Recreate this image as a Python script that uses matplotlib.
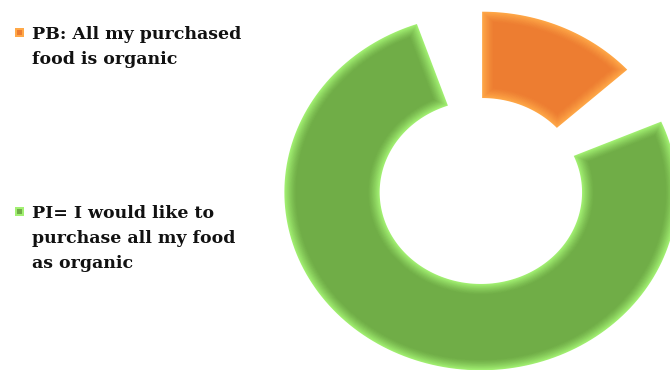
import numpy as np
import matplotlib
matplotlib.use("Agg")
import matplotlib.pyplot as plt
from matplotlib.patches import Polygon, Rectangle
from matplotlib.colors import to_rgb

# Survey shares (percent)
labels = ["PB: All my purchased\nfood is organic",
          "PI= I would like to\npurchase all my food\nas organic"]
shares = [18.5, 81.5]
colors = ["#ED7D31", "#70AD47"]
rims = ["#FFA848", "#A2F072"]

W, H = 670, 370
gap_deg = 19.0          # blank arc left after each slice
explode = 0.008
r_out, r_in = 1.0, 0.515
bevel = 0.06
cx, cy, Rx, Ry = 481.5, 191, 196.5, 178   # ring centre / radii in pixels


def inset_ring(theta1, theta2, r1, r2, d, n=160):
    """Ring segment shrunk by a constant distance d on every side."""
    ro, ri = r2 - d, r1 + d
    ao = np.degrees(np.arcsin(d / ro))
    ai = np.degrees(np.arcsin(d / ri))
    t_o = np.radians(np.linspace(theta1 + ao, theta2 - ao, n))
    t_i = np.radians(np.linspace(theta2 - ai, theta1 + ai, n))
    xs = np.concatenate([ro * np.cos(t_o), ri * np.cos(t_i)])
    ys = np.concatenate([ro * np.sin(t_o), ri * np.sin(t_i)])
    return np.column_stack([xs, ys])


fig = plt.figure(figsize=(W / 100, H / 100), dpi=100)
ax = fig.add_axes([0, 0, 1, 1])
ax.set_xlim(-cx / Rx, (W - cx) / Rx)
ax.set_ylim(-(H - cy) / Ry, cy / Ry)
ax.axis("off")

# slices run clockwise from 12 o'clock, each with a soft bevelled rim
fracs = np.array(shares) / np.sum(shares)
starts = np.concatenate([[0], np.cumsum(fracs)[:-1]]) * 360
n_layers = 16
for frac, start, base, rim in zip(fracs, starts, colors, rims):
    span = frac * 360 - gap_deg
    mid = np.radians(90 - (start + span / 2))
    ox, oy = explode * np.cos(mid), explode * np.sin(mid)
    th1, th2 = 90 - start - span, 90 - start
    b, rcol = np.array(to_rgb(base)), np.array(to_rgb(rim))
    for k in range(n_layers):
        t = k / (n_layers - 1)
        c = b + (rcol - b) * (1 - t) ** 1.3
        pts = inset_ring(th1, th2, r_in, r_out, bevel * t) + [ox, oy]
        ax.add_patch(Polygon(pts, closed=True, facecolor=c, edgecolor="none"))

# legend
legend_y = [26, 205]
for lab, base, rim, y in zip(labels, colors, rims, legend_y):
    fig.add_artist(Rectangle((15 / W, 1 - (y + 11) / H), 9 / W, 9 / H,
                             transform=fig.transFigure, facecolor=rim,
                             edgecolor="none"))
    fig.add_artist(Rectangle((17 / W, 1 - (y + 9) / H), 5 / W, 5 / H,
                             transform=fig.transFigure, facecolor=base,
                             edgecolor="none"))
    fig.text(32 / W, 1 - y / H, lab, ha="left", va="top", fontsize=12.5,
             fontweight="bold", family="DejaVu Serif", color="#111111",
             linespacing=1.6)

fig.savefig("out.png", dpi=100)
